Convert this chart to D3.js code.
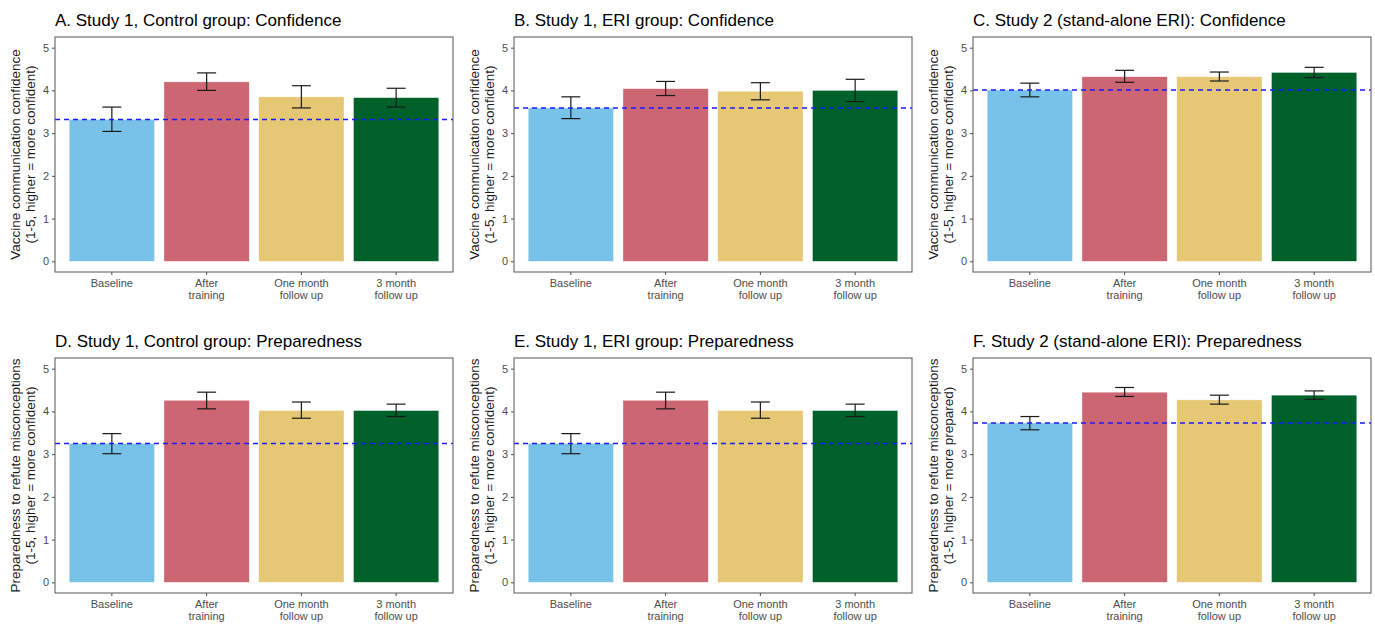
<!DOCTYPE html>
<html>
<head>
<meta charset="utf-8">
<script src="https://cdn.jsdelivr.net/npm/d3@7"></script>
<style>
  body { margin: 0; background: #fff; }
  text { font-family: "Liberation Sans", Arial, sans-serif; }
</style>
</head>
<body>
<div id="chart"></div>
<script>
var svgWidth = 1375;
var svgHeight = 624;

// categories and colours
var timepoints = ["Baseline", "After training", "One month follow up", "3 month follow up"];
var tickLines = [["Baseline"], ["After", "training"], ["One month", "follow up"], ["3 month", "follow up"]];
var barColors = ["#78c2ea", "#cc6673", "#e6c774", "#00612a"];
var yTicks = [0, 1, 2, 3, 4, 5];

// panel titles and y labels
var titles = [
    "A. Study 1, Control group: Confidence",
    "B. Study 1, ERI group: Confidence",
    "C. Study 2 (stand-alone ERI): Confidence",
    "D. Study 1, Control group: Preparedness",
    "E. Study 1, ERI group: Preparedness",
    "F. Study 2 (stand-alone ERI): Preparedness"
];
var yLabels = [
    ["Vaccine communication confidence", "(1-5, higher = more confident)"],
    ["Vaccine communication confidence", "(1-5, higher = more confident)"],
    ["Vaccine communication confidence", "(1-5, higher = more confident)"],
    ["Preparedness to refute misconceptions", "(1-5, higher = more confident)"],
    ["Preparedness to refute misconceptions", "(1-5, higher = more confident)"],
    ["Preparedness to refute misconceptions", "(1-5, higher = more prepared)"]
];

// means and 95% CI per panel
var means = [
    [3.32, 4.20, 3.85, 3.83],
    [3.59, 4.04, 3.98, 4.00],
    [4.01, 4.32, 4.32, 4.42],
    [3.25, 4.26, 4.02, 4.02],
    [3.25, 4.26, 4.02, 4.02],
    [3.73, 4.45, 4.27, 4.38]
];
var lower = [
    [3.04, 4.00, 3.59, 3.61],
    [3.34, 3.88, 3.78, 3.74],
    [3.85, 4.19, 4.22, 4.30],
    [3.01, 4.06, 3.84, 3.88],
    [3.01, 4.06, 3.84, 3.88],
    [3.57, 4.35, 4.17, 4.28]
];
var upper = [
    [3.61, 4.41, 4.11, 4.05],
    [3.85, 4.21, 4.18, 4.26],
    [4.17, 4.47, 4.43, 4.54],
    [3.48, 4.45, 4.22, 4.17],
    [3.48, 4.45, 4.22, 4.17],
    [3.88, 4.56, 4.38, 4.48]
];

// panel box positions
var colLeft = [55, 514, 973];
var rowTop = [37, 358];
var panelW = 398;
var panelH = 235;

var svg = d3.select("#chart")
    .append("svg")
    .attr("width", svgWidth)
    .attr("height", svgHeight);

titles.forEach(function (title, i) {
    var col = i % 3;
    var row = Math.floor(i / 3);

    var g = svg.append("g")
        .attr("transform", `translate(${colLeft[col]}, ${rowTop[row]})`);

    var x = d3.scaleBand()
        .domain(timepoints)
        .range([0, panelW])
        .paddingInner(0.1)
        .paddingOuter(0.15);

    var y = d3.scaleLinear()
        .domain([-0.25, 5.25])
        .range([panelH, 0]);

    var data = timepoints.map(function (t, j) {
        return { t: t, mean: means[i][j], lo: lower[i][j], hi: upper[i][j], color: barColors[j] };
    });

    // bars
    g.selectAll("rect.bar")
        .data(data)
        .enter()
        .append("rect")
        .attr("class", "bar")
        .attr("x", d => x(d.t))
        .attr("width", x.bandwidth())
        .attr("y", d => y(d.mean))
        .attr("height", d => y(0) - y(d.mean))
        .attr("fill", d => d.color)
        .attr("stroke", "#ffffff")
        .attr("stroke-opacity", 0.6)
        .attr("stroke-width", 0.6);

    // error bars
    var capW = x.step() * 0.2;
    var eb = g.selectAll("g.err")
        .data(data)
        .enter()
        .append("g")
        .attr("class", "err")
        .attr("stroke", "#1a1a1a")
        .attr("stroke-width", 1.2);

    eb.append("line")
        .attr("x1", d => x(d.t) + x.bandwidth() / 2)
        .attr("x2", d => x(d.t) + x.bandwidth() / 2)
        .attr("y1", d => y(d.lo))
        .attr("y2", d => y(d.hi));
    eb.append("line")
        .attr("x1", d => x(d.t) + x.bandwidth() / 2 - capW / 2)
        .attr("x2", d => x(d.t) + x.bandwidth() / 2 + capW / 2)
        .attr("y1", d => y(d.lo))
        .attr("y2", d => y(d.lo));
    eb.append("line")
        .attr("x1", d => x(d.t) + x.bandwidth() / 2 - capW / 2)
        .attr("x2", d => x(d.t) + x.bandwidth() / 2 + capW / 2)
        .attr("y1", d => y(d.hi))
        .attr("y2", d => y(d.hi));

    // dashed reference line at baseline mean
    g.append("line")
        .attr("x1", 0)
        .attr("x2", panelW)
        .attr("y1", y(means[i][0]))
        .attr("y2", y(means[i][0]))
        .attr("stroke", "#1a1aff")
        .attr("stroke-width", 1.4)
        .attr("stroke-dasharray", "5,4");

    // panel border
    g.append("rect")
        .attr("width", panelW)
        .attr("height", panelH)
        .attr("fill", "none")
        .attr("stroke", "#555555")
        .attr("stroke-width", 1);

    // y axis
    var yAxis = g.append("g")
        .call(d3.axisLeft(y).tickValues(yTicks).tickFormat(d3.format("d")).tickSize(3).tickPadding(3));
    yAxis.select(".domain").remove();
    yAxis.selectAll(".tick line").attr("stroke", "#4d4d4d");
    yAxis.selectAll(".tick text")
        .attr("fill", "#4d4d4d")
        .style("font-size", "11px");

    // x axis
    var xAxis = g.append("g")
        .attr("transform", `translate(0, ${panelH})`)
        .call(d3.axisBottom(x).tickSize(3).tickFormat(""));
    xAxis.select(".domain").remove();
    xAxis.selectAll(".tick line").attr("stroke", "#4d4d4d");
    xAxis.selectAll(".tick").each(function (d, j) {
        var t = d3.select(this).append("text")
            .attr("fill", "#4d4d4d")
            .attr("text-anchor", "middle")
            .style("font-size", "11px");
        tickLines[j].forEach(function (line, k) {
            t.append("tspan")
                .attr("x", 0)
                .attr("y", 15 + k * 12)
                .text(line);
        });
    });

    // y label
    var yl = g.append("text")
        .attr("transform", `translate(-35, ${panelH / 2}) rotate(-90)`)
        .attr("text-anchor", "middle")
        .attr("fill", "#1a1a1a")
        .style("font-size", "13.5px");
    yLabels[i].forEach(function (line, k) {
        yl.append("tspan")
            .attr("x", 0)
            .attr("y", k * 15)
            .text(line);
    });

    // title
    g.append("text")
        .attr("x", 0)
        .attr("y", -11)
        .attr("fill", "#000")
        .style("font-size", "17px")
        .text(title);
});
</script>
</body>
</html>
